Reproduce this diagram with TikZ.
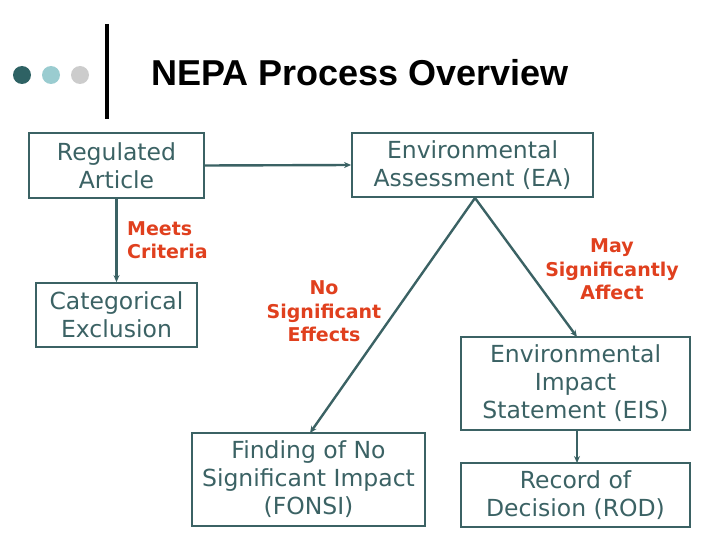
\documentclass[tikz,border=0pt]{standalone}
\usepackage{fontspec}
\setmainfont{DejaVu Sans}
\newfontfamily\titlefont{Liberation Sans}
\usetikzlibrary{arrows.meta}
\definecolor{teal1}{HTML}{3B6264}
\definecolor{redlab}{HTML}{E0401E}
\definecolor{dotA}{HTML}{2E6264}
\definecolor{dotB}{HTML}{9ACCD0}
\definecolor{dotC}{HTML}{CCCCCC}
\begin{document}
\begin{tikzpicture}[x=1pt,y=-1pt,
  box/.style={draw=teal1,line width=1.8pt,text=teal1,align=center,inner sep=0pt,
    font=\fontsize{23.5}{28}\selectfont},
  conn/.style={draw=teal1,line width=2.4pt,-{Stealth[length=7pt,width=6pt]}},
  lab/.style={text=redlab,font=\fontsize{19}{23.5}\selectfont\bfseries,inner sep=0pt}]
\useasboundingbox (0,0) rectangle (720,540);
% header
\fill[dotA] (22,75) circle (9);
\fill[dotB] (51,75) circle (9);
\fill[dotC] (80,75) circle (9);
\draw[line width=4pt] (107,24) -- (107,119);
\node[anchor=west,inner sep=0pt] (title) at (151,73) {\titlefont\bfseries\fontsize{36}{40}\selectfont NEPA Process Overview};
% boxes
\node[box,minimum width=175pt,minimum height=65pt] (ra) at (116.5,165.5) {Regulated\\Article};
\node[box,minimum width=241pt,minimum height=64pt] (ea) at (472.5,165) {Environmental\\Assessment (EA)};
\node[box,minimum width=161pt,minimum height=64pt] (ce) at (116.5,315) {Categorical\\Exclusion};
\node[box,minimum width=229pt,minimum height=93pt] (eis) at (575.5,383.5) {Environmental\\Impact\\Statement (EIS)};
\node[box,minimum width=233pt,minimum height=93pt] (fonsi) at (308.5,479.5) {Finding of No\\Significant Impact\\(FONSI)};
\node[box,minimum width=229pt,minimum height=64pt] (rod) at (575.5,495) {Record of\\Decision (ROD)};
% connectors
\coordinate (eab) at (475,198);
\coordinate (ft) at (310,433);
\coordinate (et) at (577,337);
\coordinate (eb) at (577,430);
\coordinate (rt) at (577,463);
\draw[conn] (ra.east) -- (ea.west);
\draw[conn] (ra.south) -- (ce.north);
\draw[conn] (eab) -- (ft);
\draw[conn] (eab) -- (et);
\draw[conn] (eb) -- (rt);
% labels
\node[lab,anchor=west,align=left] (l1) at (127,240) {Meets\\Criteria};
\node[lab,align=center] (l2) at (324,311.5) {No\\Significant\\Effects};
\node[lab,align=center] (l3) at (612,269.5) {May\\Significantly\\Affect};
\end{tikzpicture}
\end{document}
